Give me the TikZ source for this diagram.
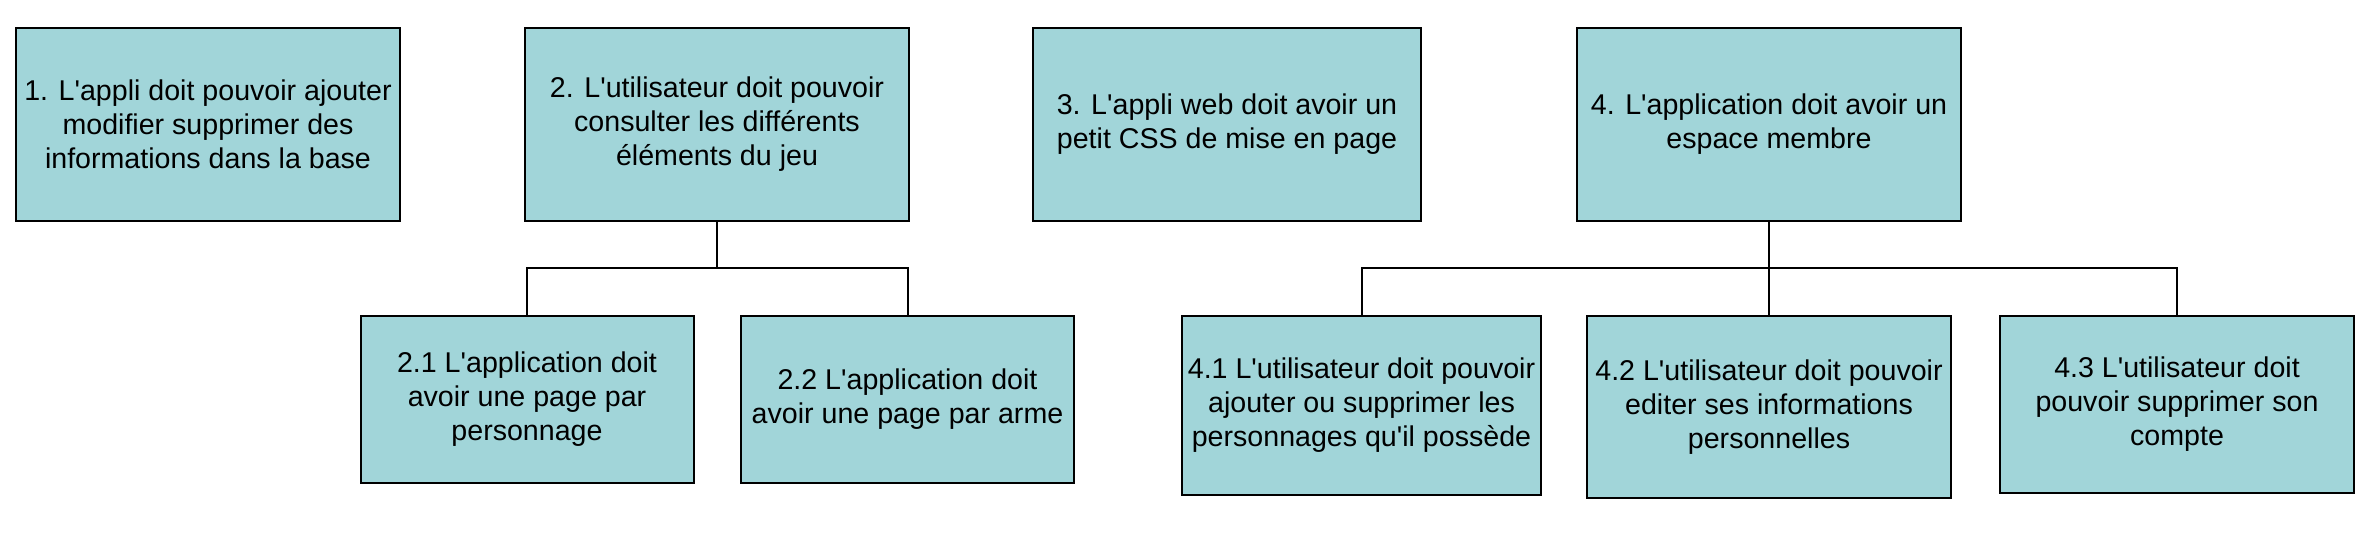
\documentclass[tikz,border=0pt]{standalone}
\usepackage{fontspec}
\setmainfont{Liberation Sans}[Ligatures=TeXOff]
\usepackage{tikz}
\usetikzlibrary{positioning, calc}
\definecolor{boxteal}{RGB}{161,213,217}
\tikzset{
  req/.style={draw=black, line width=1pt, fill=boxteal, align=center,
    inner sep=0pt, font=\fontsize{14.3}{17}\selectfont},
  link/.style={draw=black, line width=1pt}
}

\begin{document}
\begin{tikzpicture}[x=0.5pt, y=-0.5pt]
  \useasboundingbox (0,0) rectangle (2368,532);

  % top level requirements
  \node[req, minimum width=192pt, minimum height=96.5pt] (b1) at (208,124.5)
    {1. L'appli doit pouvoir ajouter\\modifier supprimer des\\informations dans la base};
  \node[req, minimum width=192pt, minimum height=96.5pt] (b2) at (717,124.5)
    {2. L'utilisateur doit pouvoir\\consulter les différents\\éléments du jeu};
  \node[req, minimum width=194pt, minimum height=96.5pt] (b3) at (1227,124.5)
    {3. L'appli web doit avoir un\\petit CSS de mise en page};
  \node[req, minimum width=192pt, minimum height=96.5pt] (b4) at (1769,124.5)
    {4. L'application doit avoir un\\espace membre};

  % sub requirements of 2
  \node[req, minimum width=166.5pt, minimum height=83.5pt] (b21) at (527,399.5)
    {2.1 L'application doit\\avoir une page par\\personnage};
  \node[req, minimum width=166.5pt, minimum height=83.5pt] (b22) at (907.5,399.5)
    {2.2 L'application doit\\avoir une page par arme};

  % sub requirements of 4
  \node[req, minimum width=179.5pt, minimum height=89.5pt] (b41) at (1361.5,405.5)
    {4.1 L'utilisateur doit pouvoir\\ajouter ou supprimer les\\personnages qu'il possède};
  \node[req, minimum width=182pt, minimum height=91pt] (b42) at (1769,407)
    {4.2 L'utilisateur doit pouvoir\\editer ses informations\\personnelles};
  \node[req, minimum width=177pt, minimum height=88.5pt] (b43) at (2177,404.5)
    {4.3 L'utilisateur doit\\pouvoir supprimer son\\compte};

  % tree connectors
  \coordinate (j2) at (717,268);
  \coordinate (j4) at (1769,268);
  \draw[link] (b2.south) -- (j2) -| (b21.north);
  \draw[link] (j2) -| (b22.north);
  \draw[link] (b4.south) -- (b42.north);
  \draw[link] (j4) -| (b41.north);
  \draw[link] (j4) -| (b43.north);
\end{tikzpicture}
\end{document}
